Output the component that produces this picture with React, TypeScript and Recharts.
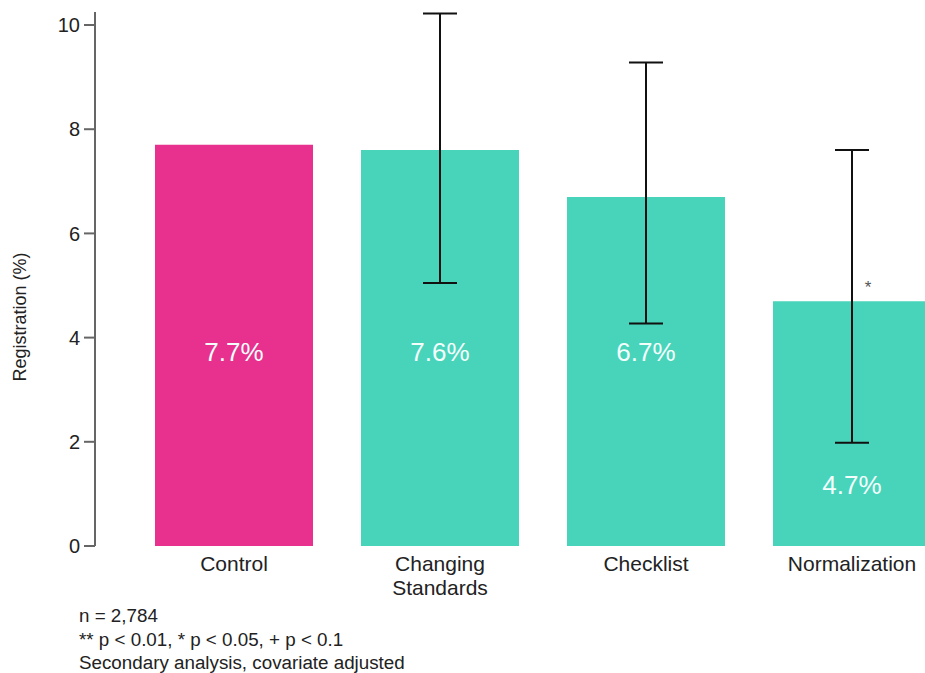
import React from "react";
import {
  Bar,
  BarChart,
  Cell,
  ErrorBar,
  LabelList,
  XAxis,
  YAxis,
} from "recharts";

const arms = ["Control", "Changing\nStandards", "Checklist", "Normalization"];
const registration = [7.7, 7.6, 6.7, 4.7];
const ciLow: (number | null)[] = [null, 5.05, 4.27, 1.98];
const ciHigh: (number | null)[] = [null, 10.22, 9.28, 7.6];
const significance = ["", "", "", "*"];
const yTicks = [0, 2, 4, 6, 8, 10];
const notes = [
  "n = 2,784",
  "** p < 0.01, * p < 0.05, + p < 0.1",
  "Secondary analysis, covariate adjusted",
];

const PINK = "#e8318f";
const TEAL = "#47d4bb";
const FONT = "Arial, 'Liberation Sans', Helvetica, sans-serif";

const data = arms.map((arm, i) => ({
  arm,
  value: registration[i],
  err:
    ciLow[i] == null
      ? undefined
      : [registration[i] - (ciLow[i] as number), (ciHigh[i] as number) - registration[i]],
  low: ciLow[i],
  sig: significance[i],
}));

function ArmTick(props: any) {
  const { x, y, payload } = props;
  const lines = String(payload.value).split("\n");
  return (
    <text x={x} y={y} textAnchor="middle" fill="#222" fontSize={21} fontFamily={FONT}>
      {lines.map((line, i) => (
        <tspan key={i} x={x} dy={i === 0 ? 17 : 24}>
          {line}
        </tspan>
      ))}
    </text>
  );
}

// value text sits inside the bar; it drops lower when the interval reaches down into it
function ValueLabel(props: any) {
  const { x, y, width, height, index } = props;
  const d = data[index];
  const perUnit = height / d.value;
  const bottom = y + height;
  const level = d.low != null && d.low < 3 ? 1.17 : 3.72;
  return (
    <text
      x={x + width / 2}
      y={bottom - level * perUnit}
      textAnchor="middle"
      dominantBaseline="central"
      fill="#f4fffc"
      fontSize={26}
      fontFamily={FONT}
    >
      {d.value.toFixed(1)}%
    </text>
  );
}

function SigLabel(props: any) {
  const { x, y, width, index } = props;
  const mark = data[index].sig;
  if (!mark) return null;
  return (
    <text
      x={x + width / 2 + 16}
      y={y - 8}
      textAnchor="middle"
      fill="#555"
      fontSize={17}
      fontFamily={FONT}
    >
      {mark}
    </text>
  );
}

function AxisTitle() {
  return (
    <text
      x={12}
      y={309}
      transform="rotate(-90 12 309)"
      textAnchor="middle"
      dominantBaseline="central"
      fill="#222"
      fontSize={18}
      fontFamily={FONT}
    >
      Registration (%)
    </text>
  );
}

export default function App() {
  return (
    <div
      style={{
        position: "absolute",
        left: 0,
        top: 0,
        width: 925,
        height: 673,
        overflow: "hidden",
        background: "#fff",
      }}
    >
      <div style={{ position: "absolute", left: 8, top: 8 }}>
        <BarChart
          width={960}
          height={600}
          data={data}
          margin={{ top: 4, right: 13, bottom: 0, left: 27 }}
          barCategoryGap={24}
        >
          <XAxis
            dataKey="arm"
            axisLine={false}
            tickLine={false}
            interval={0}
            padding={{ left: 36, right: 0 }}
            height={62}
            tick={<ArmTick />}
          />
          <YAxis
            domain={[0, 10.25]}
            ticks={yTicks}
            width={60}
            allowDataOverflow
            axisLine={{ stroke: "#666", strokeWidth: 2 }}
            tickLine={{ stroke: "#666", strokeWidth: 2 }}
            tickSize={11}
            tickMargin={4}
            tick={{ fill: "#222", fontSize: 20, fontFamily: FONT }}
            label={<AxisTitle />}
          />
          <Bar dataKey="value" isAnimationActive={false}>
            {data.map((d, i) => (
              <Cell key={d.arm} fill={i === 0 ? PINK : TEAL} />
            ))}
            <LabelList dataKey="value" content={<ValueLabel />} />
            <LabelList dataKey="sig" content={<SigLabel />} />
            <ErrorBar
              dataKey="err"
              width={17}
              stroke="#111"
              strokeWidth={2}
              direction="y"
              isAnimationActive={false}
            />
          </Bar>
        </BarChart>
      </div>
      <div
        style={{
          position: "absolute",
          left: 79,
          top: 604,
          fontFamily: FONT,
          fontSize: 18.8,
          lineHeight: "23.5px",
          color: "#222",
          whiteSpace: "nowrap",
        }}
      >
        {notes.map((n) => (
          <div key={n}>{n}</div>
        ))}
      </div>
    </div>
  );
}
